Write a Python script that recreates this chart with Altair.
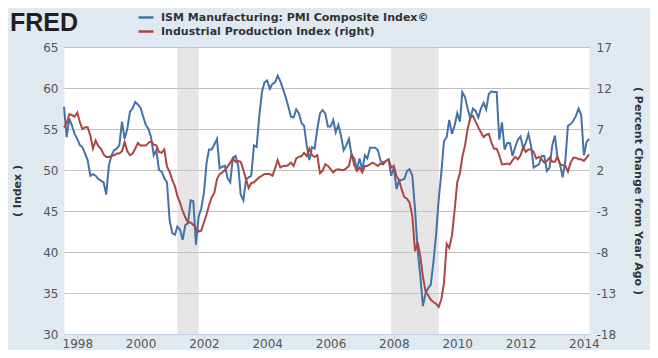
import altair as alt
import pandas as pd

# ---- data (monthly, Aug 1997 .. Mar 2014) ----
start_month = "1997-08-01"
end_month = "2014-03-01"

pmi_values = [
    57.7, 54.0, 56.3, 55.4, 54.4,                                       # 1997 Aug-Dec
    53.8, 53.0, 52.8, 52.0, 51.2, 49.3, 49.5, 49.3, 48.9, 48.7, 48.5, 47.0,  # 1998
    50.6, 51.8, 52.4, 52.6, 53.0, 55.9, 53.8, 55.0, 57.1, 57.5, 58.3, 58.0,  # 1999
    57.6, 56.5, 55.5, 55.0, 54.0, 51.8, 52.4, 50.0, 49.8, 49.0, 48.5, 43.9,  # 2000
    42.3, 42.1, 43.1, 42.7, 41.5, 43.3, 43.5, 46.3, 46.2, 40.9, 44.3, 45.3,  # 2001
    47.2, 50.9, 52.5, 52.5, 53.1, 53.8, 50.2, 50.4, 50.5, 49.0, 48.5, 51.5,  # 2002
    51.7, 50.5, 47.0, 46.3, 48.8, 49.1, 49.3, 53.0, 52.8, 56.5, 59.5, 60.7,  # 2003
    60.9, 59.9, 60.5, 60.7, 61.5, 60.8, 59.9, 58.9, 57.7, 56.5, 56.4, 57.4,  # 2004
    56.9, 55.7, 55.4, 53.0, 51.2, 52.8, 52.6, 55.0, 56.9, 57.3, 56.9, 55.3,  # 2005
    55.3, 56.1, 54.6, 55.5, 54.2, 52.4, 53.0, 53.8, 51.8, 51.4, 50.1, 51.4,  # 2006
    50.0, 51.8, 51.4, 52.7, 52.7, 52.7, 52.4, 51.1, 50.9, 51.1, 51.3, 49.3,  # 2007
    50.3, 47.7, 48.7, 48.8, 48.9, 49.9, 50.1, 49.3, 45.2, 40.3, 37.1, 33.4,  # 2008
    35.0, 35.6, 36.0, 38.7, 42.0, 46.4, 49.6, 53.5, 54.0, 56.1, 54.4, 55.4,  # 2009
    56.9, 55.9, 59.5, 58.9, 57.5, 56.3, 57.5, 57.2, 56.4, 57.5, 58.2, 57.4,  # 2010
    59.3, 59.6, 59.5, 59.5, 53.7, 55.8, 52.5, 53.3, 53.3, 51.7, 52.8, 53.7,  # 2011
    54.1, 52.6, 53.3, 54.4, 53.0, 50.3, 50.5, 50.7, 51.7, 51.7, 49.9, 50.3,  # 2012
    53.0, 54.2, 51.6, 50.7, 49.1, 51.1, 55.4, 55.6, 56.0, 56.6, 57.5, 56.7,  # 2013
    51.8, 53.4, 53.8,                                                   # 2014 Jan-Mar
]

ip_values = [
    7.2, 7.7, 8.8, 8.7, 8.5,                                            # 1997 Aug-Dec
    9.0, 7.8, 7.0, 7.2, 7.2, 6.2, 4.6, 5.6, 4.9, 4.6, 3.9, 3.6,         # 1998
    3.6, 3.7, 3.8, 4.0, 4.0, 4.3, 5.4, 4.3, 3.8, 4.0, 4.6, 5.3,         # 1999
    5.0, 5.0, 5.0, 5.3, 5.5, 5.1, 5.0, 4.2, 4.1, 4.5, 2.4, 1.8,         # 2000
    0.8, 0.0, -1.2, -2.0, -3.0, -3.8, -4.4, -4.4, -4.7, -5.1, -5.5, -5.4,  # 2001
    -4.4, -3.4, -2.3, -1.3, -0.8, 0.9, 1.5, 1.7, 2.0, 2.4, 2.9, 3.4,    # 2002
    3.0, 3.1, 3.0, 2.0, 0.9, -0.2, 0.4, 0.5, 0.8, 1.1, 1.3, 1.5,        # 2003
    1.5, 1.5, 1.3, 2.2, 3.2, 2.3, 2.5, 2.5, 2.6, 2.9, 2.5, 3.4,         # 2004
    3.6, 3.7, 4.1, 3.7, 4.6, 3.8, 3.6, 3.8, 1.6, 1.9, 2.7, 2.5,         # 2005
    2.1, 1.7, 2.0, 2.1, 2.0, 2.0, 2.2, 2.5, 4.0, 2.6, 1.9, 2.3,         # 2006
    1.7, 2.5, 2.5, 2.7, 2.9, 2.7, 2.5, 2.8, 2.7, 3.1, 3.3, 2.3,         # 2007
    2.5, 1.2, 0.8, -0.4, -1.3, -1.5, -2.0, -3.6, -7.9, -6.8, -8.5, -11.0,  # 2008
    -12.8, -13.3, -13.8, -14.1, -14.3, -14.7, -13.8, -11.8, -7.0, -7.5, -6.0, -3.0,  # 2009
    0.5, 1.6, 3.6, 5.0, 7.0, 8.4, 8.6, 7.9, 7.2, 6.6, 6.0, 6.3,         # 2010
    6.4, 5.3, 4.6, 4.6, 3.8, 2.7, 2.7, 2.8, 2.7, 3.2, 3.6, 3.3,         # 2011
    3.8, 4.8, 4.2, 4.5, 4.5, 4.2, 3.4, 3.6, 3.3, 2.9, 3.1, 3.5,         # 2012
    3.0, 3.0, 3.6, 2.7, 2.6, 2.5, 1.8, 2.9, 3.5, 3.5, 3.3, 3.3,         # 2013
    3.1, 3.5, 3.9,                                                      # 2014 Jan-Mar
]

recession_starts = ["2001-03-01", "2007-12-01"]
recession_ends = ["2001-11-01", "2009-06-01"]

tick_years = [1998, 2000, 2002, 2004, 2006, 2008, 2010, 2012, 2014]
left_ticks = [30, 35, 40, 45, 50, 55, 60, 65]
right_ticks = [-18, -13, -8, -3, 2, 7, 12, 17]

pmi_name = "ISM Manufacturing: PMI Composite Index©"
ip_name = "Industrial Production Index (right)"

# ---- tables ----
dates = pd.date_range(start_month, end_month, freq="MS").strftime("%Y-%m-%d")
df_pmi = pd.DataFrame({"date": dates, "value": pmi_values, "series": pmi_name})
df_ip = pd.DataFrame({"date": dates, "value": ip_values, "series": ip_name})
df_rec = pd.DataFrame({"start": recession_starts, "end": recession_ends})
df_logo = pd.DataFrame({"t": ["FRED"]})

FONT = "DejaVu Sans"
BLUE = "#4572a7"
RED = "#aa4643"

xscale = alt.Scale(
    type="utc",
    domain=[alt.DateTime(year=1997, month=8, date=1, utc=True),
            alt.DateTime(year=2014, month=3, date=1, utc=True)],
)
xaxis = alt.Axis(
    values=[alt.DateTime(year=y, month=1, date=1, utc=True) for y in tick_years],
    labelExpr="utcFormat(datum.value, '%Y')",
    grid=False,
    domainColor="#c0d0e0",
    tickColor="#c0d0e0",
    tickSize=5,
    labelPadding=-1,
    labelFlush=False,
    labelOverlap=False,
    title=None,
)
left_axis = alt.Axis(
    orient="left", values=left_ticks, grid=True, gridColor="#c0c0c0",
    ticks=False, domain=False, labelPadding=6,
    title="( Index )", titlePadding=20,
)
right_axis = alt.Axis(
    orient="right", values=right_ticks, grid=False,
    ticks=False, domain=False, labelPadding=7,
    labelExpr="datum.value + ''",
    title="( Percent Change from Year Ago )", titlePadding=17, titleAngle=90,
)
color_scale = alt.Scale(domain=[pmi_name, ip_name], range=[BLUE, RED])
legend = alt.Legend(
    orient="none", legendX=73, legendY=-38.5, title=None,
    symbolType="stroke", symbolSize=225, symbolStrokeWidth=2.5,
    labelFont=FONT, labelFontWeight="bold", labelFontSize=11, labelColor="#333333",
    padding=0, rowPadding=0, labelOffset=6, labelLimit=500,
)

rect = alt.Chart(df_rec).mark_rect(color="#cccccc", opacity=0.5).encode(
    x=alt.X("start:T", scale=xscale, axis=xaxis),
    x2="end:T",
)

blue = alt.Chart(df_pmi).mark_line(strokeWidth=2).encode(
    x=alt.X("date:T", scale=xscale, axis=xaxis),
    y=alt.Y("value:Q", scale=alt.Scale(domain=[30, 65], nice=False, zero=False), axis=left_axis),
    color=alt.Color("series:N", scale=color_scale, legend=legend),
)

red = alt.Chart(df_ip).mark_line(strokeWidth=2).encode(
    x=alt.X("date:T", scale=xscale, axis=xaxis),
    y=alt.Y("value:Q", scale=alt.Scale(domain=[-18, 17], nice=False, zero=False), axis=right_axis),
    color=alt.Color("series:N", scale=color_scale, legend=legend),
)

logo = alt.Chart(df_logo).mark_text(
    font="Liberation Sans", fontWeight="bold", fontSize=25, color="#231f20",
    align="left", baseline="alphabetic",
).encode(text="t:N", x=alt.value(-54), y=alt.value(-16))

chart = (
    alt.layer(rect, blue, red, logo)
    .resolve_scale(y="independent")
    .properties(
        width=525, height=287,
        autosize=alt.AutoSizeParams(type="none"),
        padding={"left": 56, "top": 39, "right": 61, "bottom": 16},
        background="#e1e9f0",
    )
    .configure_view(stroke="transparent", fill="white")
    .configure_axis(
        labelFont=FONT, titleFont=FONT, labelFontSize=12, labelColor="#555555",
        titleColor="#333333", titleFontSize=11, titleFontWeight="bold",
    )
)

chart.save("out.html", embed_options={"renderer": "svg", "actions": False})
